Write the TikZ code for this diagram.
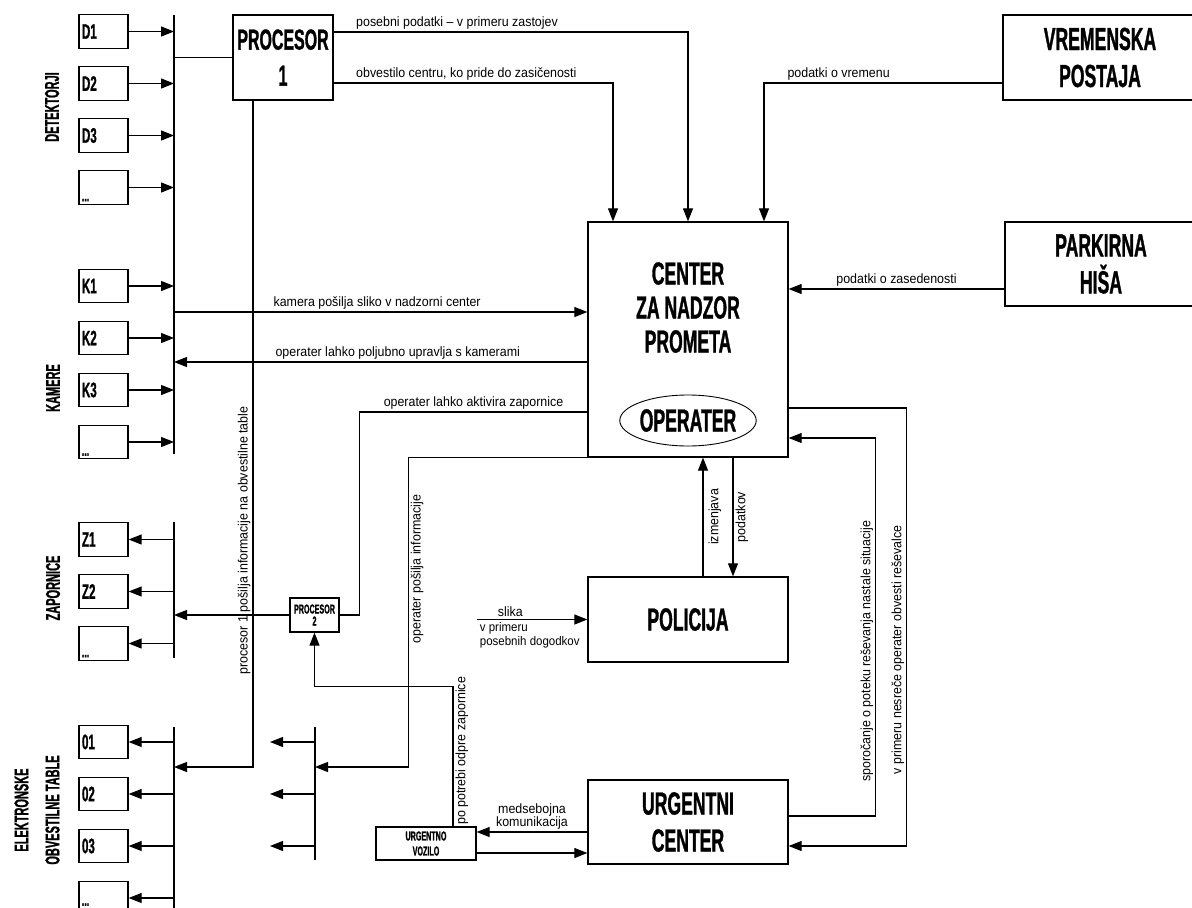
\documentclass[tikz,border=0pt]{standalone}
\usepackage{fontspec}
\setmainfont{Liberation Sans}
\newfontfamily\capsfont[FakeStretch=0.55,FakeBold=1]{Liberation Sans Bold}
\newfontfamily\notefont[FakeStretch=0.92]{Liberation Sans}
\usetikzlibrary{positioning, shapes.geometric, arrows.meta}

\begin{document}
\begin{tikzpicture}[x=1pt, y=-1pt, line width=1.1pt,
            dev/.style={draw, line width=1.3pt, minimum width=49pt, minimum height=33.5pt, inner sep=3pt, text width=43pt, align=left, font=\capsfont\fontsize{21}{21}\selectfont},
            dots/.style={anchor=south west, inner sep=3pt, font=\capsfont\fontsize{16}{16}\selectfont},
            bigbox/.style={draw, line width=1.3pt, align=center, inner sep=0pt, font=\capsfont\fontsize{32}{37}\selectfont},
            smallbox/.style={draw, line width=1.3pt, align=center, inner sep=0pt, font=\capsfont\fontsize{13}{12}\selectfont},
            group/.style={rotate=90, align=center, font=\capsfont\fontsize{20}{31}\selectfont},
            note/.style={inner sep=2pt, font=\notefont\fontsize{13.5}{15}\selectfont},
            arrow/.style={-{Triangle[length=13pt, width=10pt]}}
        ]
            \fill[white] (0,0) rectangle (1192,908);
            \useasboundingbox (0,0) rectangle (1192,908);

            % detektorji in kamere
            \node [dev] (d1) at (103.5,31.5) {D1};
            \node [dev, below=17.2pt of d1] (d2) {D2};
            \node [dev, below=17.2pt of d2] (d3) {D3};
            \node [dev, below=17.2pt of d3, label={[dots]south west:...}] (d4) {};
            \node [dev] (k1) at (103.5,286) {K1};
            \node [dev, below=17.2pt of k1] (k2) {K2};
            \node [dev, below=17.2pt of k2] (k3) {K3};
            \node [dev, below=17.2pt of k3, label={[dots]south west:...}] (k4) {};

            % zapornice in table
            \node [dev] (z1) at (103.5,539.5) {Z1};
            \node [dev, below=17.2pt of z1] (z2) {Z2};
            \node [dev, below=17.2pt of z2, label={[dots]south west:...}] (z3) {};
            \node [dev] (o1) at (103.5,742) {01};
            \node [dev, below=17.2pt of o1] (o2) {02};
            \node [dev, below=17.2pt of o2] (o3) {03};
            \node [dev, below=17.2pt of o3, label={[dots, yshift=6pt]south west:...}] (o4) {};

            \node [group] (gdet) at (52,107) {DETEKTORJI};
            \node [group] (gkam) at (53,388) {KAMERE};
            \node [group] (gzap) at (53,588) {ZAPORNICE};
            \node [group] (gtab) at (37,810) {ELEKTRONSKE\\OBVESTILNE TABLE};

            % vodila
            \coordinate (bus1) at (174,15);   \coordinate (bus1end) at (174,454);
            \coordinate (bus2) at (174,522);  \coordinate (bus2end) at (174,658);
            \coordinate (bus3) at (174,727);  \coordinate (bus3end) at (174,910);
            \coordinate (bus4) at (315,727);  \coordinate (bus4end) at (315,860);
            \draw (bus1) -- (bus1end);
            \draw (bus2) -- (bus2end);
            \draw (bus3) -- (bus3end);
            \draw (bus4) -- (bus4end);

            % glavni bloki
            \node [bigbox, minimum width=100pt, minimum height=85pt, font=\capsfont\fontsize{29}{36}\selectfont] (proc1) at (283,57.5) {PROCESOR\\1};
            \node [bigbox, minimum width=194pt, minimum height=85pt] (vrem) at (1100,57.5) {VREMENSKA\\POSTAJA};
            \node [bigbox, minimum width=192pt, minimum height=84pt] (park) at (1101,264) {PARKIRNA\\HIŠA};
            \node [bigbox, minimum width=200pt, minimum height=235pt] (ctr) at (688,339.5) {};
            \node [bigbox, draw=none, font=\capsfont\fontsize{32}{34}\selectfont] (ctrname) at ([yshift=32pt]ctr.center) {CENTER\\ZA NADZOR\\PROMETA};
            \node [bigbox, ellipse, line width=0.9pt, minimum width=135pt, minimum height=51pt] (oper) at ([yshift=-81pt]ctr.center) {OPERATER};
            \node [bigbox, minimum width=200pt, minimum height=85pt] (pol) at (688,619.5) {POLICIJA};
            \node [bigbox, minimum width=200pt, minimum height=84pt] (urgc) at (688,822) {URGENTNI\\CENTER};
            \node [smallbox, minimum width=100pt, minimum height=33pt, font=\capsfont\fontsize{13}{15}\selectfont] (urgv) at (426,843.5) {URGENTNO\\VOZILO};
            \node [smallbox, minimum width=49pt, minimum height=34pt] (proc2) at (314.5,615) {PROCESOR\\2};

            % puscice senzorjev
            \foreach \s in {d1,d2,d3,d4,k1,k2,k3,k4}
                \draw [arrow] (\s.east) -- (\s.east -| bus1);
            \foreach \s in {z1,z2,z3}
                \draw [arrow] (\s.east -| bus2) -- (\s.east);
            \foreach \s in {o1,o2,o3,o4}
                \draw [arrow] (\s.east -| bus3) -- (\s.east);
            \foreach \s in {o1,o2,o3}
                \draw [arrow] (\s.east -| bus4) -- ++(-45,0);

            \draw (proc1.west) -- (proc1.west -| bus1);
            \draw [arrow] ([xshift=-30pt]proc1.south) |- node[note, pos=0.33, rotate=90, anchor=south] (lproc) {procesor 1 pošilja informacije na obvestilne table} (bus3 |- 0,767);
            \draw [arrow] ([yshift=25.5pt]proc1.east) -| node[note, pos=0, anchor=south west, xshift=20pt] (lposeb) {posebni podatki – v primeru zastojev} (ctr.north);
            \draw [arrow] ([yshift=-25.5pt]proc1.east) -| node[note, pos=0, anchor=south west, xshift=20pt] (lobv) {obvestilo centru, ko pride do zasičenosti} ([xshift=-75pt]ctr.north);
            \draw [arrow] ([yshift=-25.5pt]vrem.west) -| node[note, pos=0.5, anchor=south west, xshift=21pt] (lvrem) {podatki o vremenu} ([xshift=76pt]ctr.north);
            \draw [arrow] ([yshift=-25pt]park.west) -- node[note, midway, above] (lpark) {podatki o zasedenosti} ([yshift=-25pt]park.west -| ctr.east);

            % kamere
            \draw [arrow] ([yshift=27.5pt]ctr.west -| bus1) -- node[note, pos=0, anchor=south west, xshift=97pt] (lkam) {kamera pošilja sliko v nadzorni center} ([yshift=27.5pt]ctr.west);
            \draw [arrow] ([yshift=-22.5pt]ctr.west) -- node[note, pos=1, anchor=south west, xshift=99pt] (lupr) {operater lahko poljubno upravlja s kamerami} ([yshift=-22.5pt]ctr.west -| bus1);

            % zapornice
            \draw ([yshift=-72.5pt]ctr.west) -| node[note, pos=0.25, above] (lakt) {operater lahko aktivira zapornice} ([xshift=20pt]proc2.east) -- (proc2.east);
            \draw [arrow] (proc2.west) -- (proc2.west -| bus2);
            \draw [arrow] (ctr.south west) -- ++(-179,0) |- node[note, pos=0.18, rotate=90, anchor=north] (lpos) {operater pošilja informacije} (bus4 |- 0,767);
            \draw [arrow] ([xshift=27pt]urgv.north) |- node[note, pos=0.27, rotate=90, anchor=north] (lodp) {po potrebi odpre zapornice} ([yshift=-54pt]proc2.south) -- (proc2.south);

            % policija
            \draw [arrow] ([xshift=15pt]pol.north) -- node[note, midway, rotate=90, anchor=north, xshift=0pt, yshift=-3pt] (lizm) {izmenjava} ([xshift=15pt]ctr.south);
            \draw [arrow] ([xshift=45pt]ctr.south) -- node[note, midway, rotate=90, anchor=north] (lpod) {podatkov} ([xshift=45pt]pol.north);
            \draw [arrow] ([xshift=-110pt]pol.west) -- node[note, pos=0.3, above] (lsl) {slika} node[note, pos=0, anchor=north west, align=left, font=\notefont\fontsize{12.5}{14}\selectfont] (lprim) {v primeru\\posebnih dogodkov} (pol.west);

            % urgenca
            \draw [arrow] ([yshift=-10pt]urgc.west) -- node[note, midway, above, align=center, font=\notefont\fontsize{13.5}{13}\selectfont] (lmed) {medsebojna\\komunikacija} ([yshift=-10pt]urgc.west -| urgv.east);
            \draw [arrow] ([yshift=-9.5pt]urgv.east) -- ([yshift=-9.5pt]urgv.east -| urgc.west);
            \draw [arrow] ([yshift=6pt]urgc.east) -- ++(87,0) |- node[note, pos=0.218, rotate=90, anchor=south] (lspo) {sporočanje o poteku reševanja nastale situacije} ([yshift=-98.5pt]ctr.east);
            \draw [arrow] ([yshift=-68.5pt]ctr.east) -- ++(118,0) |- node[note, pos=0.276, rotate=90, anchor=south] (lnes) {v primeru nesreče operater obvesti reševalce} ([yshift=-24pt]urgc.east);

        \end{tikzpicture}
\end{document}
